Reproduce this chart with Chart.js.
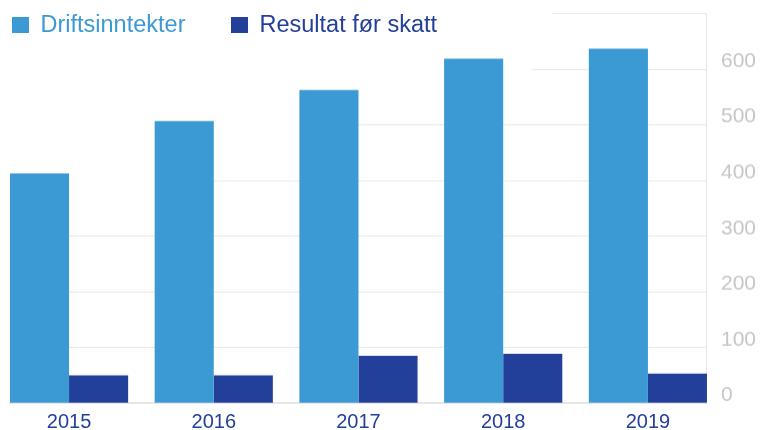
<!DOCTYPE html>
<html>
<head>
<meta charset="utf-8">
<script src="https://cdn.jsdelivr.net/npm/chart.js@4/dist/chart.umd.min.js"></script>
<style>
    body { margin: 0; background: #fff; }
    #wrap { position: relative; width: 760px; height: 430px; overflow: hidden; }
    #plot { position: absolute; left: 0; top: -12.6px; width: 760px; height: 453.3px; }
    .legend-item {
        position: absolute;
        top: 13px;
        display: flex;
        font-family: 'Liberation Sans', Arial, sans-serif;
        font-size: 23.5px;
        line-height: 23.5px;
        white-space: nowrap;
    }
    .legend-box { width: 17px; height: 16px; margin-top: 4px; margin-right: 11.5px; }
</style>
</head>
<body>
<div id="wrap">
    <div id="plot"><canvas id="chart"></canvas></div>
    <div class="legend-item" style="left: 12px; color: #3b99d4;">
        <span class="legend-box" style="background: #3b99d4;"></span>Driftsinntekter
    </div>
    <div class="legend-item" style="left: 231px; color: #223f99;">
        <span class="legend-box" style="background: #223f99;"></span>Resultat før skatt
    </div>
</div>
<script>
// Data
const years = ['2015', '2016', '2017', '2018', '2019'];
const driftsinntekter = [413, 507, 563, 619, 637];
const resultatForSkatt = [50, 50, 85, 89, 53];
const yTicks = [0, 100, 200, 300, 400, 500, 600, 700];

const LIGHT = '#3b99d4';
const DARK = '#223f99';
const GRID = '#e8e8e8';

// gridlines in the reference are hidden on the left, up to these x positions (in category units)
const gridHiddenUntil = { 400: 0.8, 500: 1.8, 600: 3.2, 700: 3.34 };

Chart.defaults.font.family = "'Liberation Sans', Arial, sans-serif";

const gridMask = {
    id: 'gridMask',
    beforeDatasetsDraw(chart) {
        const { ctx, chartArea, scales } = chart;
        ctx.save();
        ctx.fillStyle = '#fff';
        Object.keys(gridHiddenUntil).forEach(v => {
            const y = scales.y.getPixelForValue(Number(v));
            const x1 = scales.x.getPixelForValue(gridHiddenUntil[v]);
            ctx.fillRect(chartArea.left, y - 2, x1 - chartArea.left, 4);
        });
        ctx.restore();
    }
};

const toPoints = (values) => values.map((v, i) => ({ x: i, y: v }));

new Chart(document.getElementById('chart'), {
    type: 'bar',
    data: {
        datasets: [
            {
                label: 'Driftsinntekter',
                data: toPoints(driftsinntekter),
                backgroundColor: LIGHT
            },
            {
                label: 'Resultat før skatt',
                data: toPoints(resultatForSkatt),
                backgroundColor: DARK
            }
        ]
    },
    options: {
        responsive: true,
        maintainAspectRatio: false,
        animation: false,
        categoryPercentage: 0.8166,
        barPercentage: 1,
        layout: { padding: { top: 14, left: 10, right: -10, bottom: 0 } },
        plugins: {
            legend: { display: false },
            tooltip: { enabled: false }
        },
        scales: {
            x: {
                type: 'linear',
                offset: false,
                min: -0.408,
                max: 4.408,
                grid: { display: false, drawTicks: false, offset: false },
                border: { display: true, color: '#e6e6e6', width: 2 },
                ticks: {
                    stepSize: 1,
                    includeBounds: false,
                    autoSkip: false,
                    maxRotation: 0,
                    padding: 9,
                    color: DARK,
                    font: { size: 20, lineHeight: 1 },
                    callback: (v) => years[v] ?? ''
                }
            },
            y: {
                position: 'right',
                min: 0,
                max: 700,
                afterBuildTicks: (scale) => {
                    scale.ticks = yTicks.map(v => ({ value: v }));
                },
                grid: { color: GRID, drawTicks: false },
                border: { display: true, color: '#e6e6e6', width: 1 },
                ticks: {
                    padding: 14,
                    labelOffset: -8,
                    color: '#c6c6c6',
                    font: { size: 21 },
                    callback: (v) => (v === 700 ? '' : v)
                }
            }
        }
    },
    plugins: [gridMask]
});
</script>
</body>
</html>
